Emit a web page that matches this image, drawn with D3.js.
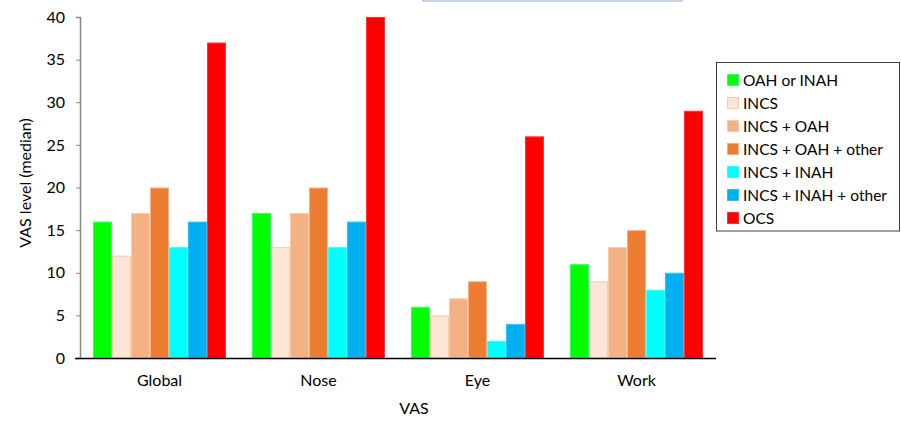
<!DOCTYPE html>
<html><head><meta charset="utf-8">
<script src="https://cdn.jsdelivr.net/npm/d3@7"></script>
<style>body{margin:0;background:#fff}svg{display:block}text{font-family:Lato,"Open Sans",sans-serif;fill:#000}</style>
</head><body>
<svg id="c" width="901" height="422"></svg>
<script>
const categories = ["Global","Nose","Eye","Work"];
const seriesNames = ["OAH or INAH","INCS","INCS + OAH","INCS + OAH + other","INCS + INAH","INCS + INAH + other","OCS"];
const seriesColors = ["#00FF00","#FBE5D6","#F4B183","#ED7D31","#00FFFF","#00B0F0","#FF0000"];
const seriesStrokes = ["#33FF66","#F8CBAD","#F8CBAD","#F4B183","#33FFFF","#33BFF3","#FF3333"];
const values = {
  "Global":[16,12,17,20,13,16,37],
  "Nose":[17,13,17,20,13,16,40],
  "Eye":[6,5,7,9,2,4,26],
  "Work":[11,9,13,15,8,10,29]
};
const yTicks = [0,5,10,15,20,25,30,35,40];

const svg = d3.select("#c");
const L=80, R=716, T=17, B=358;
const y = d3.scaleLinear().domain([0,40]).range([B,T]);
const x0 = d3.scaleBand().domain(categories).range([L,R]);
const x1 = d3.scaleBand().domain(seriesNames).range([13, x0.bandwidth()-13]);

// top title box remnant
svg.append("rect").attr("x",423).attr("y",-20).attr("width",259).attr("height",21)
  .attr("fill","#fff").attr("stroke","#8EA9DB").attr("stroke-width",1);

// bars
categories.forEach(cat=>{
  const g = svg.append("g").attr("transform",`translate(${x0(cat)},0)`);
  g.selectAll("rect").data(values[cat]).join("rect")
    .attr("x",(d,i)=>x1(seriesNames[i])+0.5)
    .attr("y",d=>y(d)+0.5)
    .attr("width",x1.bandwidth()-1)
    .attr("height",d=>B-y(d)-0.5)
    .attr("fill",(d,i)=>seriesColors[i])
    .attr("stroke",(d,i)=>seriesStrokes[i]).attr("stroke-width",1);
});

// y axis
const ya = svg.append("g").attr("transform",`translate(${L},0)`)
  .call(d3.axisLeft(y).tickValues(yTicks).tickSize(4).tickPadding(11));
ya.select(".domain").attr("stroke","#868686").attr("stroke-width",1.5);
ya.selectAll(".tick line").attr("stroke","#868686");
ya.selectAll(".tick text").attr("font-size",16).attr("fill","#000").style("font-family","Lato,sans-serif");

// x axis
const xa = svg.append("g").attr("transform",`translate(0,${B})`)
  .call(d3.axisBottom(x0).tickSize(0).tickPadding(17));
xa.select(".domain").remove();
svg.append("line").attr("x1",75).attr("x2",R).attr("y1",B+0.5).attr("y2",B+0.5).attr("stroke","#000").attr("stroke-width",1.5);
xa.selectAll(".tick text").attr("font-size",16).attr("fill","#000").style("font-family","Lato,sans-serif");

// axis titles
svg.append("text").attr("transform",`translate(31,183) rotate(-90)`).attr("text-anchor","middle")
  .attr("font-size",16).text("VAS level (median)");
svg.append("text").attr("x",414).attr("y",414).attr("text-anchor","middle").attr("font-size",16).text("VAS");

// legend
const lg = svg.append("g");
lg.append("rect").attr("x",716.5).attr("y",62.5).attr("width",183).attr("height",168.5)
  .attr("fill","#fff").attr("stroke","#404040").attr("stroke-width",1);
seriesNames.forEach((s,i)=>{
  const yy = 80 + i*23;
  lg.append("rect").attr("x",727.5).attr("y",yy-5.5).attr("width",11).attr("height",11)
    .attr("fill",seriesColors[i]).attr("stroke",seriesStrokes[i]);
  lg.append("text").attr("x",743).attr("y",yy+5.5).attr("font-size",15.5).text(s);
});
</script>
</body></html>
